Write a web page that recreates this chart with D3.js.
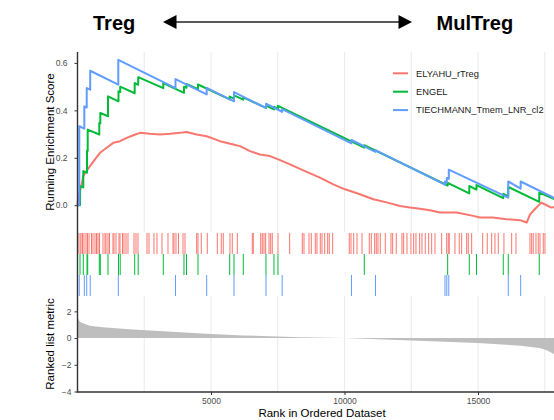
<!DOCTYPE html>
<html>
<head>
<meta charset="utf-8">
<script src="https://cdn.jsdelivr.net/npm/d3@7/dist/d3.min.js"></script>
<style>
  body { margin: 0; background: #fff; }
  text { font-family: "Liberation Sans", Arial, sans-serif; }
</style>
</head>
<body>
<svg id="chart"></svg>
<script>
// Gene sets and their colours
const setNames = ["ELYAHU_rTreg", "ENGEL", "TIECHMANN_Tmem_LNR_cl2"];
const setColors = ["#F8766D", "#00BA38", "#619CFF"];
const nGenes = 18400;

// Positions of the set members in the ranked list
const elyahuHits = [19, 94, 131, 187, 243, 318, 375, 431, 524, 580, 655, 712, 768, 824, 955, 1030, 1067, 1142,
  1198, 1329, 1367, 1442, 1554, 1592, 1685, 1741, 1816, 1891, 2116, 2191, 2266, 2603, 2678, 2865, 2977, 3165,
  3389, 3577, 3614, 3689, 3782, 3951, 4026, 4464, 4513, 4636, 4861, 5236, 5385, 5460, 5711, 5797, 5985, 6546,
  6584, 6861, 6921, 6985, 7048, 7172, 7235, 7295, 7508, 7947, 8419, 8483, 8670, 8756, 8906, 8969, 9093, 9157,
  9258, 9370, 9430, 9557, 10179, 10243, 10344, 10468, 10655, 10928, 11003, 11130, 11190, 11254, 11340, 11527,
  11741, 11804, 11939, 12152, 12216, 12340, 12490, 12591, 12677, 12815, 12902, 13025, 13153, 13265, 13389,
  13639, 13827, 13886, 13924, 14137, 14298, 14388, 14576, 14636, 14763, 15175, 15347, 15512, 15636, 15759,
  15972, 16261, 16422, 16946, 17010, 17069, 17171, 17257, 17321, 17444, 17508];
const engelHits = [94, 217, 356, 382, 816, 854, 1142, 1535, 1599, 2142, 2273, 3213, 3988, 4082, 4513, 5700,
  5861, 6209, 7059, 7358, 7508, 10741, 13864, 14673, 14943, 15946, 16133, 17294];
const tiechmannHits = [67, 255, 345, 476, 1528, 3670, 4839, 5861, 7059, 7666, 10261, 11160, 13764, 13831,
  13906, 16133, 16598];

// Running enrichment score, [rank, score]
const elyahuES = [[0, 0], [19, 0.03], [94, 0.06], [157, 0.088], [217, 0.123], [345, 0.144], [468, 0.165],
  [655, 0.193], [843, 0.221], [1093, 0.242], [1341, 0.263], [1592, 0.27], [1843, 0.284], [2090, 0.295],
  [2340, 0.305], [2715, 0.301], [3090, 0.298], [3464, 0.301], [3839, 0.305], [4089, 0.309], [4464, 0.298],
  [4839, 0.291], [5336, 0.27], [5835, 0.256], [6085, 0.249], [6459, 0.228], [6834, 0.214], [7209, 0.207],
  [7520, 0.193], [7959, 0.172], [8456, 0.147], [9080, 0.116], [9580, 0.088], [10017, 0.067], [10579, 0.046],
  [11078, 0.025], [11577, 0.012], [12078, -0.003], [12452, -0.01], [12827, -0.015], [13201, -0.021],
  [13576, -0.031], [14200, -0.031], [14822, -0.045], [15074, -0.052], [15545, -0.052], [16074, -0.059],
  [16574, -0.063], [16824, -0.073], [16946, -0.04], [17124, -0.017], [17373, 0.011], [17498, 0.004],
  [17748, -0.01], [18400, 0]];
const engelES = [[0, 0], [94, 0], [94, 0.081], [217, 0.075], [217, 0.144], [356, 0.137], [356, 0.23],
  [382, 0.229], [382, 0.319], [816, 0.298], [816, 0.347], [854, 0.345], [854, 0.389], [1142, 0.375],
  [1142, 0.459], [1535, 0.438], [1535, 0.48], [1599, 0.477], [1599, 0.50], [2142, 0.472], [2142, 0.515],
  [2273, 0.508], [2273, 0.540], [3213, 0.494], [3213, 0.515], [3988, 0.474], [3988, 0.50], [4082, 0.495],
  [4082, 0.511], [4513, 0.489], [4513, 0.509], [5700, 0.446], [5700, 0.458], [5861, 0.449], [5861, 0.463],
  [6209, 0.445], [6209, 0.455], [7059, 0.41], [7059, 0.42], [7358, 0.404], [7358, 0.415], [7508, 0.407],
  [7508, 0.419], [10741, 0.243], [10741, 0.253], [13864, 0.083], [13864, 0.094], [14673, 0.05],
  [14673, 0.081], [14943, 0.066], [14943, 0.085], [15946, 0.03], [15946, 0.048], [16133, 0.038],
  [16133, 0.077], [17294, 0.014], [17294, 0.053], [18400, 0]];
const tiechmannES = [[0, 0], [67, 0], [67, 0.333], [255, 0.323], [255, 0.417], [345, 0.412], [345, 0.494],
  [476, 0.487], [476, 0.567], [1528, 0.508], [1528, 0.613], [3670, 0.494], [3670, 0.532], [4839, 0.467],
  [4839, 0.495], [5861, 0.438], [5861, 0.477], [7059, 0.41], [7059, 0.428], [7666, 0.394], [7666, 0.405],
  [10261, 0.261], [10261, 0.275], [11160, 0.225], [11160, 0.232], [13764, 0.087], [13764, 0.10],
  [13831, 0.096], [13831, 0.115], [13906, 0.111], [13906, 0.15], [16133, 0.032], [16133, 0.10],
  [16598, 0.07], [16598, 0.10], [18400, 0]];

// Ranked list metric
const metricRank = [0, 20, 60, 150, 280, 468, 843, 1300, 2078, 3350, 5000, 6200, 7500, 8330, 10000, 12500,
  15000, 16600, 17300, 17550, 17850, 18200, 18400];
const metricValue = [1.75, 1.5, 1.3, 1.15, 1.05, 0.92, 0.82, 0.75, 0.65, 0.5, 0.3, 0.2, 0.12, 0.07, 0.0,
  -0.18, -0.37, -0.57, -0.75, -0.9, -1.2, -2.0, -3.5];

// Ticks
const esTicks = [0, 0.2, 0.4, 0.6];
const metricTicks = [-4, -2, 0, 2];
const rankTicks = [5000, 10000, 15000];
const gridTicks = [2500, 5000, 7500, 10000, 12500, 15000, 17500];

const width = 554, height = 420;
const svg = d3.select("#chart").attr("width", width).attr("height", height);

// Scales
const x = d3.scaleLinear().domain([0, nGenes]).range([77.5, 77.5 + nGenes / 5000 * 133.5]);
const yES = d3.scaleLinear().domain([-0.113, 0.646]).range([232, 52]);
const yMetric = d3.scaleLinear().domain([-4, 3.15]).range([391.5, 296]);
const rugRows = [[233, 254], [254, 275], [275, 296]];

// Grid lines in the score panel and the metric panel
[[52, 232], [296, 392]].forEach(([t, b]) => {
  svg.append("g").selectAll("line")
    .data(gridTicks)
    .enter().append("line")
    .attr("x1", d => x(d)).attr("x2", d => x(d))
    .attr("y1", t).attr("y2", b)
    .attr("stroke", "#EBEBEB")
    .attr("stroke-width", 1.1);
});

// Ranked metric area
const metricData = metricRank.map((r, i) => ({ rank: r, value: metricValue[i] }));
svg.append("path")
  .datum(metricData)
  .attr("fill", "#BEBEBE")
  .attr("d", d3.area().x(d => x(d.rank)).y0(yMetric(0)).y1(d => yMetric(d.value)));

// Rug of hits
const hitLists = [elyahuHits, engelHits, tiechmannHits];
hitLists.forEach((hits, i) => {
  svg.append("g").selectAll("line")
    .data(hits)
    .enter().append("line")
    .attr("x1", d => x(d)).attr("x2", d => x(d))
    .attr("y1", rugRows[i][0]).attr("y2", rugRows[i][1])
    .attr("stroke", setColors[i])
    .attr("stroke-width", 1);
});

// Running enrichment score lines
const esLists = [elyahuES, engelES, tiechmannES];
const line = d3.line().x(d => x(d[0])).y(d => yES(d[1]));
esLists.forEach((pts, i) => {
  svg.append("path")
    .datum(pts)
    .attr("fill", "none")
    .attr("stroke", setColors[i])
    .attr("stroke-width", 2)
    .attr("stroke-linejoin", "round")
    .attr("d", line);
});

// Axes
function styleAxis(g) {
  g.select(".domain").remove();
  g.selectAll(".tick line").attr("stroke", "#333");
  g.selectAll(".tick text").attr("fill", "#4D4D4D").style("font-size", "8.5px");
}

svg.append("g")
  .attr("transform", "translate(77.5,0)")
  .call(d3.axisLeft(yES).tickValues(esTicks).tickFormat(d3.format(".1f")).tickSize(3).tickPadding(7))
  .call(styleAxis);

svg.append("g")
  .attr("transform", "translate(77.5,0)")
  .call(d3.axisLeft(yMetric).tickValues(metricTicks).tickSize(3).tickPadding(3))
  .call(styleAxis);

svg.append("g")
  .attr("transform", "translate(0,392)")
  .call(d3.axisBottom(x).tickValues(rankTicks).tickFormat(d3.format("d")).tickSize(3).tickPadding(3))
  .call(styleAxis);

// Axis lines
svg.append("line")
  .attr("x1", 77.5).attr("x2", 77.5).attr("y1", 52).attr("y2", 392.5)
  .attr("stroke", "#333").attr("stroke-width", 1.4);
svg.append("line")
  .attr("x1", 77).attr("x2", width).attr("y1", 392).attr("y2", 392)
  .attr("stroke", "#333").attr("stroke-width", 1.4);

// Axis titles
svg.append("text")
  .attr("transform", "translate(54,142) rotate(-90)")
  .attr("text-anchor", "middle")
  .style("font-size", "11.5px")
  .text("Running Enrichment Score");
svg.append("text")
  .attr("transform", "translate(54,344) rotate(-90)")
  .attr("text-anchor", "middle")
  .style("font-size", "11.5px")
  .text("Ranked list metric");
svg.append("text")
  .attr("x", 322).attr("y", 417)
  .attr("text-anchor", "middle")
  .style("font-size", "11.5px")
  .text("Rank in Ordered Dataset");

// Legend
const legend = svg.append("g").attr("transform", "translate(393,73.3)");
const item = legend.selectAll("g")
  .data(setNames)
  .enter().append("g")
  .attr("transform", (d, i) => `translate(0,${i * 18.4})`);
item.append("line")
  .attr("x1", 0).attr("x2", 15)
  .attr("stroke", (d, i) => setColors[i])
  .attr("stroke-width", 2);
item.append("text")
  .attr("x", 23).attr("dy", "0.35em")
  .style("font-size", "9.3px")
  .attr("fill", "#1a1a1a")
  .text(d => d);

// Header with arrow
svg.append("text")
  .attr("x", 93).attr("y", 29.5)
  .style("font-size", "20px").style("font-weight", "bold")
  .text("Treg");
svg.append("text")
  .attr("x", 436.5).attr("y", 29.5)
  .style("font-size", "20px").style("font-weight", "bold")
  .text("MulTreg");
svg.append("line")
  .attr("x1", 175).attr("x2", 400).attr("y1", 22).attr("y2", 22)
  .attr("stroke", "#222").attr("stroke-width", 1.3);
svg.append("path")
  .attr("d", "M163,22 L176.5,15 L176.5,29 Z M412,22 L398.5,15 L398.5,29 Z")
  .attr("fill", "#000");
</script>
</body>
</html>
